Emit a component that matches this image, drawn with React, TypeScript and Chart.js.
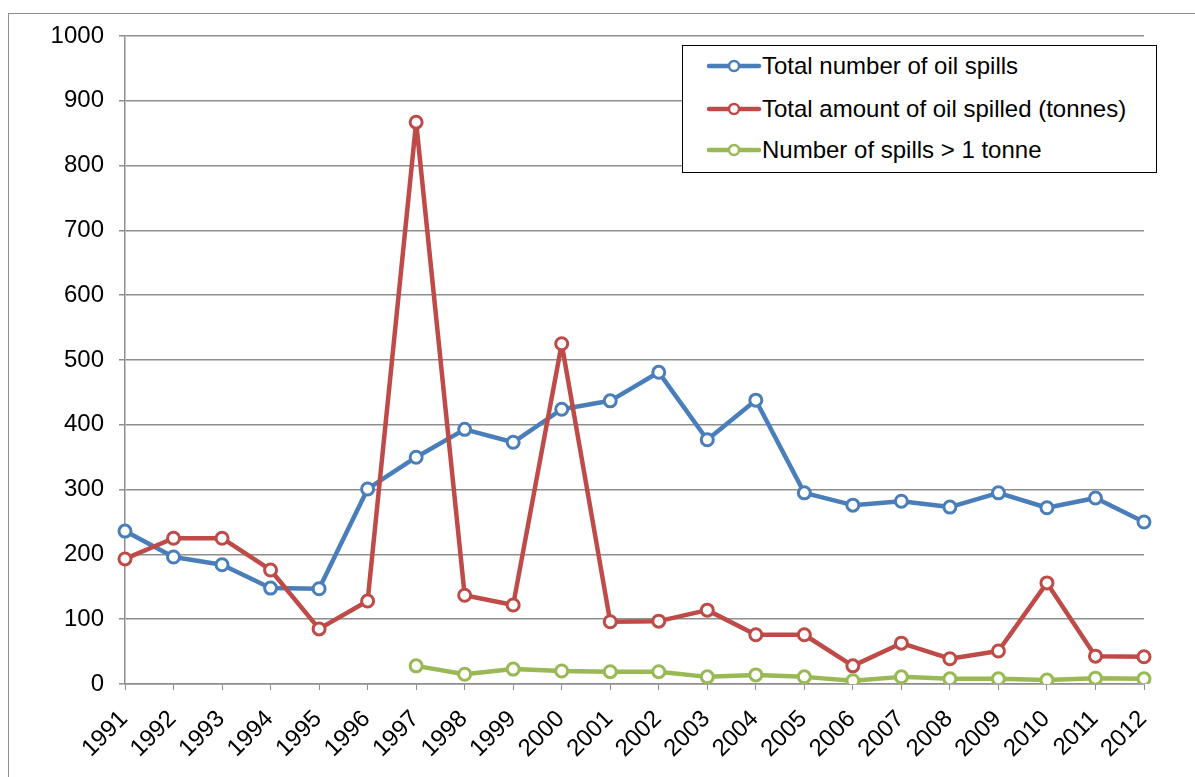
import React, { useEffect, useRef } from "react";
import { Chart, registerables } from "chart.js";

Chart.register(...registerables);

const years = ["1991","1992","1993","1994","1995","1996","1997","1998","1999","2000","2001","2002","2003","2004","2005","2006","2007","2008","2009","2010","2011","2012"];
const totalSpills = [236,196,184,148,147,301,350,393,373,424,437,481,377,438,295,276,282,273,295,272,287,250];
const totalTonnes = [193,225,225,176,85,128,867,137,122,525,96,97,114,76,76,28,63,39,51,156,43,42];
const spillsOver1 = [null,null,null,null,null,null,28,15,23,20,19,19,11,14,11,5,11,8,8,6,9,8];
const seriesNames = ["Total number of oil spills","Total amount of oil spilled (tonnes)","Number of spills > 1 tonne"];
const seriesColors = ["#4A7EBB", "#BE4B48", "#98B954"];

const FONT = "'Liberation Sans', Arial, sans-serif";
const GRID = "#8E8E8E";

export default function App() {
  const ref = useRef<HTMLCanvasElement | null>(null);
  useEffect(() => {
    if (!ref.current) return;
    const mk = (i: number, data: (number | null)[], order: number) => ({
      label: seriesNames[i],
      data,
      borderColor: seriesColors[i],
      backgroundColor: "#ffffff",
      pointBackgroundColor: "#ffffff",
      pointBorderColor: seriesColors[i],
      borderWidth: 4.5,
      borderJoinStyle: "round" as const,
      borderCapStyle: "round" as const,
      pointRadius: 6,
      pointBorderWidth: 3,
      tension: 0,
      order,
    });
    const chart = new Chart(ref.current, {
      type: "line",
      data: {
        labels: years,
        datasets: [mk(0, totalSpills, 2), mk(1, totalTonnes, 1), mk(2, spillsOver1, 0)],
      },
      options: {
        animation: false,
        responsive: false,
        layout: { padding: { left: 0, top: 36, right: 51, bottom: 0 } },
        plugins: { legend: { display: false }, tooltip: { enabled: false } },
        scales: {
          x: {
            offset: false,
            afterFit: (s: any) => { s.height = 93; },
            grid: { drawOnChartArea: false, drawTicks: true, tickLength: 6, color: GRID },
            border: { color: GRID, width: 1.5 },
            ticks: {
              color: "#000",
              font: { family: FONT, size: 24 },
              maxRotation: 45,
              minRotation: 45,
              autoSkip: false,
              padding: 15,
              labelOffset: -1,
            },
          },
          y: {
            min: 0,
            max: 1000,
            afterFit: (s: any) => { s.width = 125; },
            grid: { color: GRID, lineWidth: 1.5, tickLength: 6 },
            border: { color: GRID, width: 1.5 },
            ticks: {
              stepSize: 100,
              color: "#000",
              font: { family: FONT, size: 24 },
              padding: 15,
              callback: (v: any) => String(v),
            },
          },
        },
      },
    });
    return () => chart.destroy();
  }, []);

  const rowsY = [66, 109, 150];
  return (
    <div style={{ position: "fixed", left: 0, top: 0, width: 1195, height: 777, overflow: "hidden", background: "#fff" }}>
      <div style={{ position: "absolute", left: 8, top: 13, width: 1400, height: 1000, border: "1.5px solid #8E8E8E" }} />
      <canvas ref={ref} width={1195} height={777} style={{ position: "absolute", left: 0, top: 0, width: 1195, height: 777 }} />
      <div style={{ position: "absolute", left: 682, top: 45, width: 473, height: 126, border: "1.5px solid #000", background: "#fff" }} />
      {seriesNames.map((n, i) => (
        <div key={n} style={{ position: "absolute", left: 0, top: 0 }}>
          <svg style={{ position: "absolute", left: 705, top: rowsY[i] - 9 }} width={60} height={18}>
            <line x1={4} y1={9} x2={54} y2={9} stroke={seriesColors[i]} strokeWidth={4.5} strokeLinecap="round" />
            <circle cx={29} cy={9} r={5} fill="#fff" stroke={seriesColors[i]} strokeWidth={2.5} />
          </svg>
          <div style={{ position: "absolute", left: 762, top: rowsY[i] - 14, fontFamily: FONT, fontSize: 24, lineHeight: "28px", whiteSpace: "nowrap", color: "#000" }}>{n}</div>
        </div>
      ))}
    </div>
  );
}
